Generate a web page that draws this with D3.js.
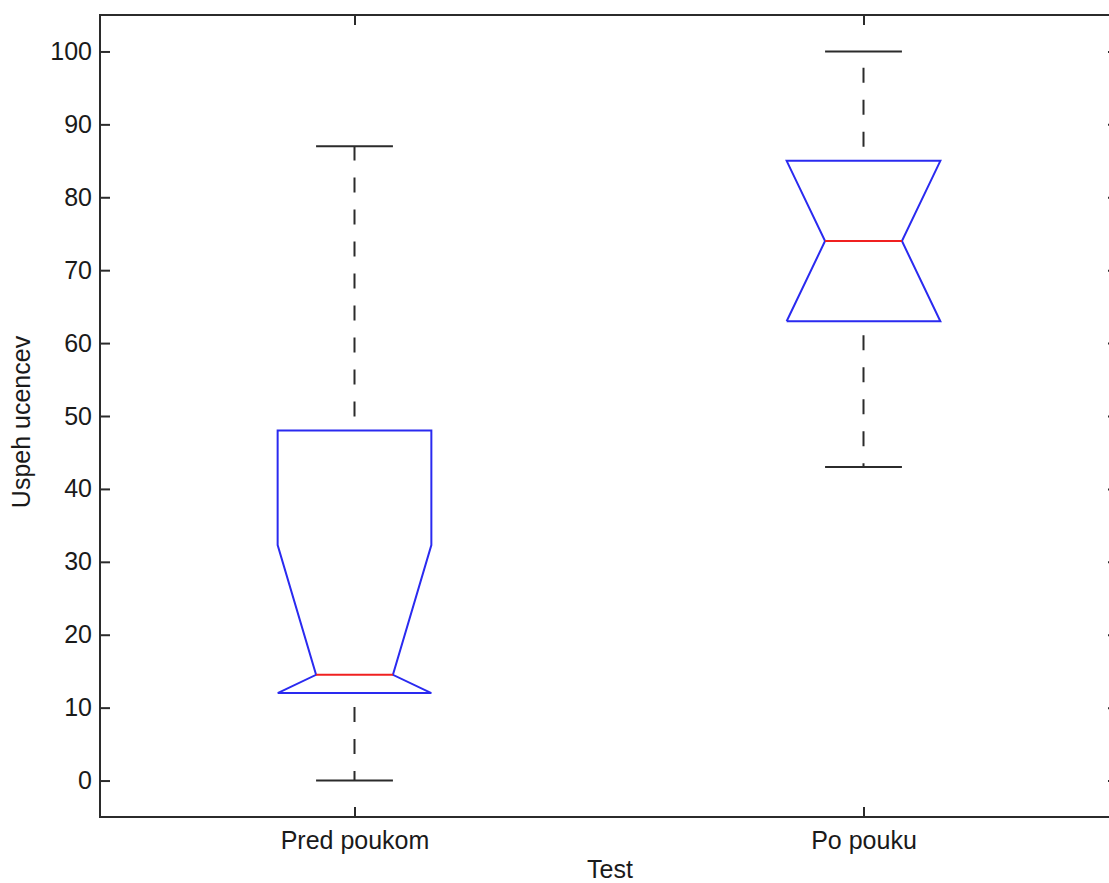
<!DOCTYPE html>
<html>
<head>
<meta charset="utf-8">
<script src="https://cdn.jsdelivr.net/npm/d3@7"></script>
<style>
  body { margin: 0; background: #fff; }
  svg { display: block; font-family: "Liberation Sans", Arial, sans-serif; }
</style>
</head>
<body>
<svg id="chart" width="1109" height="883"></svg>
<script>
// data
const categories = ["Pred poukom", "Po pouku"];
const q1 = [12, 63];
const medians = [14.5, 74];
const q3 = [48, 85];
const whiskerLow = [0, 43];
const whiskerHigh = [87, 100];
const notchLow = [-3.3, 56.2];
const notchHigh = [32.3, 91.8];
const yTicks = [0, 10, 20, 30, 40, 50, 60, 70, 80, 90, 100];

const svg = d3.select("#chart");
const mLeft = 100, mRight = 1118, mTop = 15, mBottom = 817;

const x = d3.scaleLinear().domain([0.5, 2.5]).range([mLeft, mRight]);
const y = d3.scaleLinear().domain([-5, 105]).range([mBottom, mTop]);

const axisColor = "#2b2b2b";
const halfW = 0.151; // box half width in x units

// axes (ticks pointing inward, like matlab)
svg.append("g").attr("transform", `translate(${mLeft},0)`)
    .call(d3.axisLeft(y).tickValues(yTicks).tickSizeInner(-10).tickSizeOuter(0).tickPadding(8));
svg.append("g").attr("transform", `translate(${mRight},0)`)
    .call(d3.axisRight(y).tickValues(yTicks).tickSizeInner(-10).tickSizeOuter(0).tickFormat(""));
svg.append("g").attr("transform", `translate(0,${mBottom})`)
    .call(d3.axisBottom(x).tickValues([1, 2]).tickSizeInner(-10).tickSizeOuter(0).tickPadding(14)
        .tickFormat((d, i) => categories[i]));
svg.append("g").attr("transform", `translate(0,${mTop})`)
    .call(d3.axisTop(x).tickValues([1, 2]).tickSizeInner(-10).tickSizeOuter(0).tickFormat(""));

svg.selectAll(".domain").remove();
svg.selectAll(".tick line").attr("stroke", axisColor).attr("stroke-width", 2);
svg.selectAll(".tick text").attr("font-size", 25).attr("fill", "#1a1a1a")
    .attr("font-family", "'Liberation Sans', Arial, sans-serif");

// frame
svg.append("rect")
    .attr("x", mLeft).attr("y", mTop)
    .attr("width", mRight - mLeft).attr("height", mBottom - mTop)
    .attr("fill", "none").attr("stroke", axisColor).attr("stroke-width", 2);

const boxes = categories.map((c, i) => ({
  pos: i + 1,
  q1: q1[i], med: medians[i], q3: q3[i],
  lo: whiskerLow[i], hi: whiskerHigh[i],
  nlo: Math.max(notchLow[i], q1[i]),
  nhi: Math.min(notchHigh[i], q3[i])
}));

const g = svg.append("g");

// whiskers
boxes.forEach(b => {
  g.append("line")
      .attr("x1", x(b.pos)).attr("x2", x(b.pos))
      .attr("y1", y(b.q3)).attr("y2", y(b.hi))
      .attr("stroke", axisColor).attr("stroke-width", 2)
      .attr("stroke-dasharray", "15,17").attr("stroke-dashoffset", -14);
  g.append("line")
      .attr("x1", x(b.pos)).attr("x2", x(b.pos))
      .attr("y1", y(b.q1)).attr("y2", y(b.lo))
      .attr("stroke", axisColor).attr("stroke-width", 2)
      .attr("stroke-dasharray", "15,17").attr("stroke-dashoffset", -14);
  [b.lo, b.hi].forEach(v => {
    g.append("line")
        .attr("x1", x(b.pos - halfW / 2)).attr("x2", x(b.pos + halfW / 2))
        .attr("y1", y(v)).attr("y2", y(v))
        .attr("stroke", axisColor).attr("stroke-width", 2);
  });
});

// notched boxes
const line = d3.line().x(d => x(d[0])).y(d => y(d[1]));
boxes.forEach(b => {
  const p = b.pos, w = halfW;
  const pts = [
    [p - w, b.q1], [p + w, b.q1], [p + w, b.nlo], [p + w / 2, b.med],
    [p + w, b.nhi], [p + w, b.q3], [p - w, b.q3], [p - w, b.nhi],
    [p - w / 2, b.med], [p - w, b.nlo], [p - w, b.q1]
  ];
  g.append("path")
      .attr("d", line(pts))
      .attr("fill", "none").attr("stroke", "#2a2af0").attr("stroke-width", 2)
      .attr("stroke-linejoin", "miter");
  g.append("line")
      .attr("x1", x(p - w / 2)).attr("x2", x(p + w / 2))
      .attr("y1", y(b.med)).attr("y2", y(b.med))
      .attr("stroke", "#f02020").attr("stroke-width", 2);
});

// axis titles
svg.append("text")
    .attr("x", 610).attr("y", 878)
    .attr("text-anchor", "middle").attr("font-size", 25).attr("fill", "#1a1a1a")
    .text("Test");
svg.append("text")
    .attr("transform", `translate(30,${(mTop + mBottom) / 2 + 6}) rotate(-90)`)
    .attr("text-anchor", "middle").attr("font-size", 25).attr("fill", "#1a1a1a")
    .text("Uspeh ucencev");
</script>
</body>
</html>
